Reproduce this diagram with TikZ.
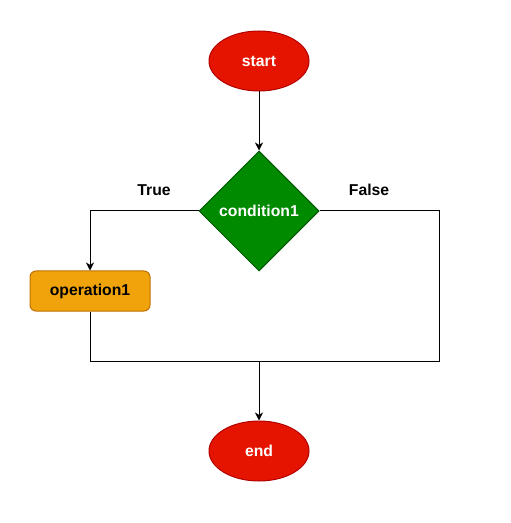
\documentclass[tikz,border=0pt]{standalone}
\usepackage{fontspec}
\setmainfont{Liberation Sans}
\usepackage{tikz}
\usetikzlibrary{positioning, arrows.meta, shapes.geometric}
\usepackage{xcolor}
\definecolor{flowred}{RGB}{229, 20, 0}
\definecolor{flowdarkred}{RGB}{178, 0, 0}
\definecolor{flowgreen}{RGB}{0, 138, 0}
\definecolor{flowdarkgreen}{RGB}{0, 87, 0}
\definecolor{floworange}{RGB}{240, 163, 10}
\definecolor{flowdarkorange}{RGB}{189, 112, 0}

\begin{document}
\begin{tikzpicture}[x=0.75pt, y=-0.75pt,
    every node/.style={font=\fontsize{11.8}{14}\selectfont\bfseries},
    terminal/.style={draw=flowdarkred, fill=flowred, text=white, ellipse, minimum width=75pt, minimum height=45pt, inner sep=0pt, line width=0.75pt},
    decision/.style={draw=flowdarkgreen, fill=flowgreen, text=white, diamond, minimum width=90pt, minimum height=90pt, inner sep=0pt, line width=0.75pt},
    process/.style={draw=flowdarkorange, fill=floworange, text=black, rectangle, rounded corners=4.5pt, minimum width=90pt, minimum height=30pt, inner sep=0pt, line width=0.75pt},
    flow/.style={line width=0.75pt, -{Stealth[length=6pt, width=6pt, inset=1.8pt]}},
    link/.style={line width=0.75pt}]
    \useasboundingbox (0,0) rectangle (510,523);
    % Shapes
    \node[terminal] (start) at (259,61) {start};
    \node[decision] (cond) at (259,211) {condition1};
    \node[process] (op) at (90,291) {operation1};
    \node[terminal] (end) at (259,451) {end};
    % Branch labels
    \node (true) at (154,190) {True};
    \node (false) at (369,190) {False};
    % Join points
    \coordinate (join) at (259,361);
    \coordinate (rgt) at (439,361);
    % Arrows
    \draw[flow] (start) -- (cond);
    \draw[flow] (cond.west) -| (op.north);
    \draw[link] (cond.east) -| (rgt) -- (join);
    \draw[link] (op.south) |- (join);
    \draw[flow] (join) -- (end.north);
\end{tikzpicture}
\end{document}
